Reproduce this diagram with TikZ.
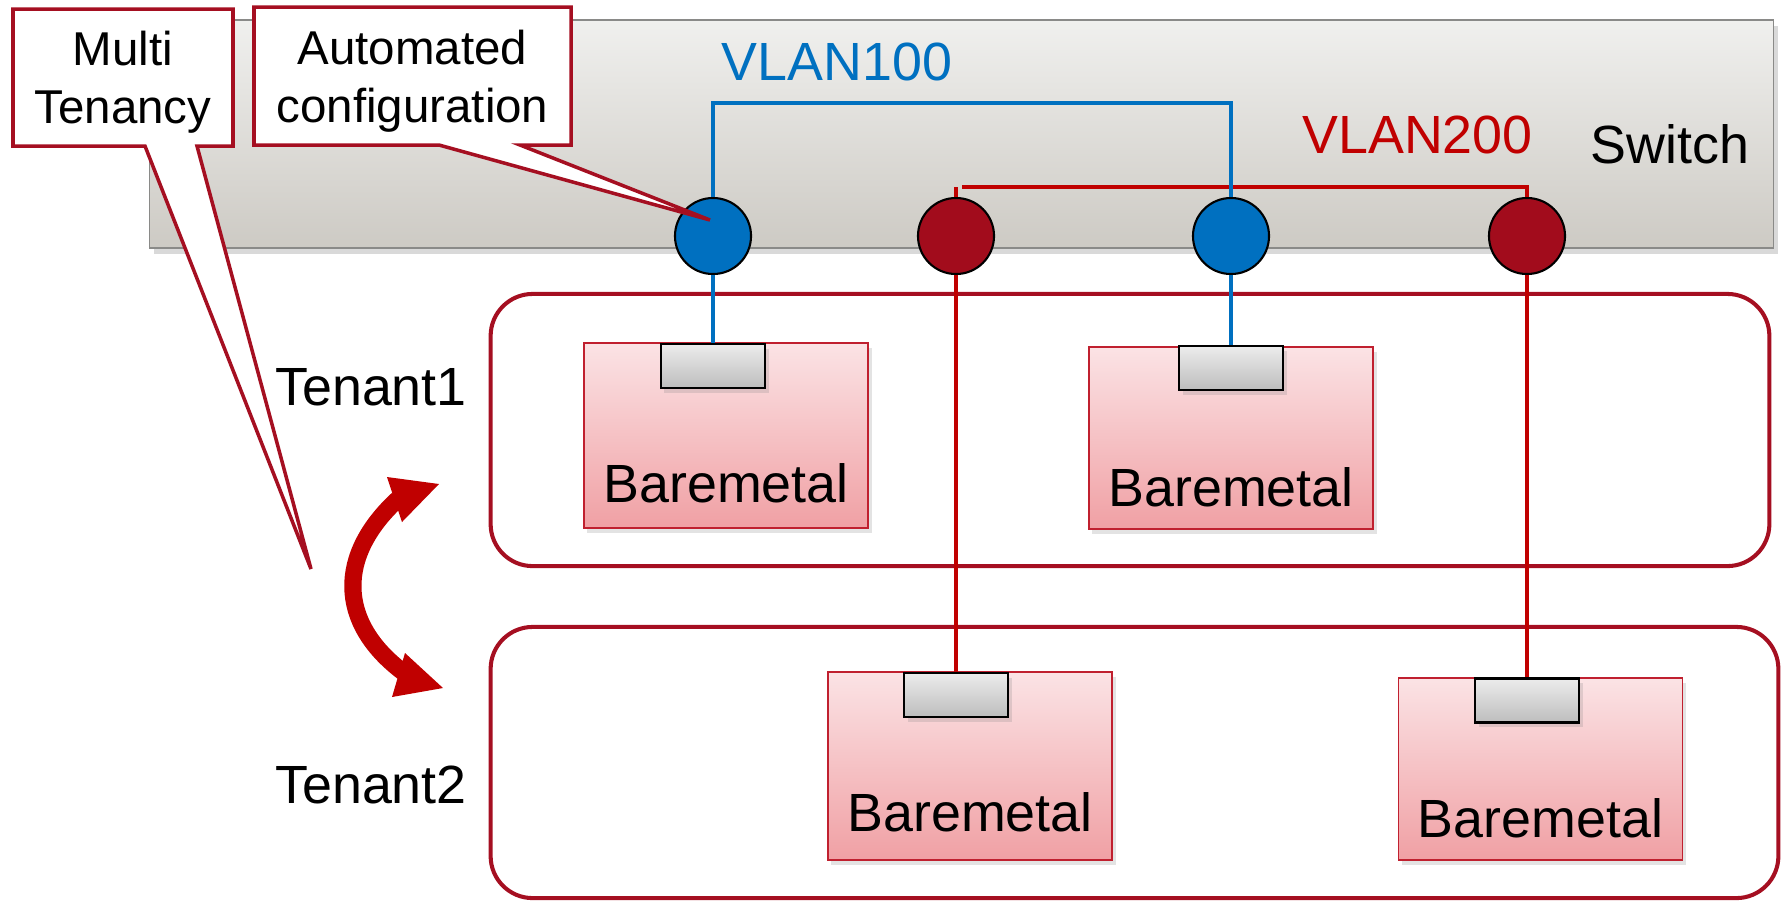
\documentclass[tikz,border=0pt]{standalone}
\usepackage{fontspec}
\setmainfont{Liberation Sans}
\usetikzlibrary{shadows,calc}

\definecolor{tenantred}{HTML}{A50F21}
\definecolor{linkblue}{HTML}{0070C0}
\definecolor{linkred}{HTML}{C00000}
\definecolor{portred}{HTML}{A20C1C}
\definecolor{bmtop}{HTML}{FBE3E5}
\definecolor{bmbottom}{HTML}{F0A0A4}
\definecolor{bmedge}{HTML}{C0202F}
\definecolor{switchtop}{HTML}{F0F0EE}
\definecolor{switchbottom}{HTML}{CDCAC4}
\definecolor{switchedge}{HTML}{8A8A88}
\definecolor{nictop}{HTML}{ECECEC}
\definecolor{nicbottom}{HTML}{BDBDBD}

\begin{document}
\begin{tikzpicture}[x=0.01cm, y=-0.01cm,
  lbl/.style={font=\fontsize{15.3pt}{18pt}\selectfont, inner sep=0, anchor=base},
  switchbox/.style={rectangle, draw=switchedge, line width=0.5pt, inner sep=0,
    top color=switchtop, bottom color=switchbottom,
    drop shadow={shadow xshift=1.2pt, shadow yshift=-1.6pt, opacity=0.3}},
  tenantbox/.style={rectangle, draw=tenantred, line width=1.15pt, rounded corners=0.42cm, inner sep=0},
  bmbox/.style={rectangle, draw=bmedge, line width=0.5pt, inner sep=0, minimum width=2.84cm,
    top color=bmtop, bottom color=bmbottom,
    drop shadow={shadow xshift=1pt, shadow yshift=-1.3pt, opacity=0.22}},
  nicbox/.style={rectangle, draw=black, line width=0.6pt, inner sep=0,
    minimum width=1.04cm, minimum height=0.44cm,
    top color=nictop, bottom color=nicbottom,
    drop shadow={shadow xshift=1pt, shadow yshift=-1.3pt, opacity=0.22}},
  port/.style={circle, draw=black, line width=0.6pt, minimum size=0.76cm, inner sep=0},
  bluelink/.style={draw=linkblue, line width=0.95pt},
  redlink/.style={draw=linkred, line width=1pt},
  calloutshape/.style={fill=white, draw=tenantred, line width=1pt, line join=miter},
  callouttext/.style={align=center, font=\fontsize{13.5pt}{16.6pt}\selectfont, inner sep=0},
  swaparrow/.style={draw=linkred, line width=4.9pt},
  swaphead/.style={fill=linkred}
]
\useasboundingbox (0,0) rectangle (1785,902);

% switch chassis
\node[switchbox, minimum width=16.23cm, minimum height=2.28cm] (switch) at (961.5,134) {};
\node[lbl] (switchlbl) at (1670,163) {Switch};
\node[lbl, text=linkblue] (vlan100) at (837,80) {VLAN100};
\node[lbl, text=linkred] (vlan200) at (1417.5,153) {VLAN200};

% tenants
\node[tenantbox, minimum width=12.78cm, minimum height=2.72cm] (t1) at (1130,430) {};
\node[tenantbox, minimum width=12.87cm, minimum height=2.71cm] (t2) at (1134.5,762.5) {};
\node[lbl] (t1lbl) at (371,405) {Tenant1};
\node[lbl] (t2lbl) at (371,803) {Tenant2};

% bare-metal servers
\node[bmbox, minimum height=1.85cm] (bm1) at (726,435.5) {};
\node[bmbox, minimum height=1.82cm] (bm2) at (1231,438) {};
\node[bmbox, minimum height=1.88cm] (bm3) at (970,766) {};
\node[bmbox, minimum height=1.82cm] (bm4) at (1540.5,769) {};
\node[lbl] (bm1lbl) at (726,502) {Baremetal};
\node[lbl] (bm2lbl) at (1231,506) {Baremetal};
\node[lbl] (bm3lbl) at (970,831) {Baremetal};
\node[lbl] (bm4lbl) at (1540.5,837) {Baremetal};

% NICs
\node[nicbox] (nic1) at (713,366) {};
\node[nicbox] (nic2) at (1231,368) {};
\node[nicbox] (nic3) at (956,695) {};
\node[nicbox] (nic4) at (1527,700.5) {};

% switch ports
\node[port, fill=linkblue] (p1) at (713,236) {};
\node[port, fill=portred] (p2) at (956,236) {};
\node[port, fill=linkblue] (p3) at (1231,236) {};
\node[port, fill=portred] (p4) at (1527,236) {};

% VLAN 200 wiring
\coordinate (vl200) at (962,187);
\draw[redlink] (vl200) -- (vl200 -| p4.north) -- (p4.north);
\draw[redlink] (p2.north) -- (p2.north |- vl200);
\draw[redlink] (p2) -- (nic3);
\draw[redlink] (p4) -- (nic4);

% VLAN 100 wiring
\coordinate (vl100) at (713,103);
\draw[bluelink] (p1.north) -- (vl100) -- (vl100 -| p3.north) -- (p3.north);
\draw[bluelink] (p1) -- (nic1);
\draw[bluelink] (p3) -- (nic2);

% callouts
\coordinate (mtNW) at (13,9);
\coordinate (mtSE) at (233,146);
\coordinate (mttip) at (311,569);
\path[calloutshape] (mtNW) -| (mtSE) -- (197,146) -- (mttip) -- (145,146) -- (mtNW |- mtSE) -- cycle;
\node[callouttext] (mt) at ($(mtNW)!0.5!(mtSE)+(0,5)$) {Multi\\Tenancy};

\coordinate (acNW) at (254,7);
\coordinate (acSE) at (571,145);
\coordinate (actip) at ($(p1.center)+(-3,-16)$);
\path[calloutshape] (acNW) -| (acSE) -- (520,145) -- (actip) -- (439,145) -- (acNW |- acSE) -- cycle;
\node[callouttext] (ac) at ($(acNW)!0.5!(acSE)+(0,5)$) {Automated\\configuration};

% tenant swap arrow
\draw[swaparrow] (398,499) .. controls (337,555) and (337,622) .. (403,672);
\fill[swaphead] (387,477) -- (439,484) -- (402,522) -- cycle;
\fill[swaphead] (405,653) -- (443,688) -- (392,697) -- cycle;
\end{tikzpicture}
\end{document}
